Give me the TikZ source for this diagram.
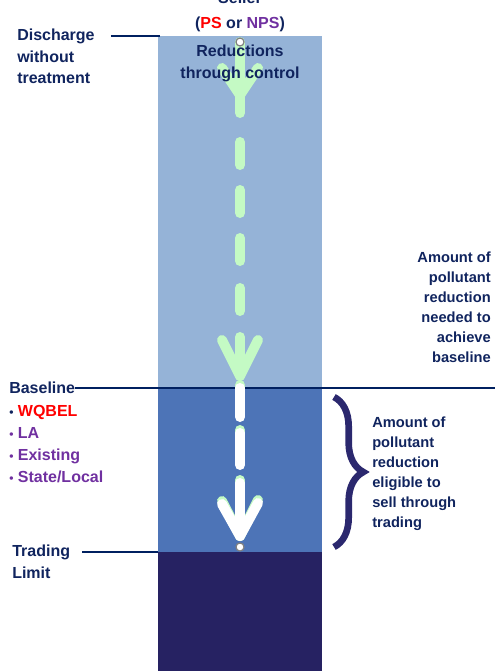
\documentclass[tikz,border=0pt]{standalone}
\usepackage{fontspec}
\setmainfont{Liberation Sans}
\usepackage{xcolor}
\usepackage{tikz}
\usetikzlibrary{positioning, calc, decorations.pathreplacing}
\definecolor{lightcol}{RGB}{149, 179, 215}
\definecolor{midcol}{RGB}{77, 116, 183}
\definecolor{darkcol}{RGB}{38, 34, 98}
\definecolor{navyline}{RGB}{0, 32, 96}
\definecolor{navytext}{RGB}{16, 36, 94}
\definecolor{npspurple}{RGB}{112, 48, 160}
\definecolor{flowgreen}{RGB}{196, 250, 196}
\definecolor{bracecol}{RGB}{43, 40, 110}

\tikzset{
    leader/.style={draw=navyline, line width=2pt},
    greenstroke/.style={draw=flowgreen, line width=7.5pt, line cap=round, line join=round},
    whitestroke/.style={draw=white, line width=7.5pt, line cap=round, line join=round},
    lbl/.style={text=navytext, inner sep=0pt, font=\bfseries\fontsize{12}{16}\selectfont},
    sidelbl/.style={text=navytext, inner sep=0pt, font=\bfseries\fontsize{11}{15}\selectfont},
    marker/.style={circle, draw=gray, fill=white, line width=0.9pt, minimum size=6pt, inner sep=0pt}
}

\begin{document}
\begin{tikzpicture}[x=0.75pt, y=-0.75pt]
    \useasboundingbox (0,0) rectangle (495,671);
    \clip (0,0) rectangle (495,671);

    % The column
    \fill[lightcol] (158,36) rectangle (322,389);
    \fill[midcol] (158,389) rectangle (322,552);
    \fill[darkcol] (158,552) rectangle (322,671);
    \coordinate (coltop) at (160,36);
    \coordinate (rightedge) at (495,389);
    \coordinate (collimit) at (158,552);

    % Labels on the left
    \node[lbl, anchor=north west, align=left] (discharge) at (17,29) {Discharge\\without\\treatment};
    \node[lbl, anchor=north west] (baseline) at (9,382) {Baseline};
    \node[lbl, anchor=north west, align=left, font=\bfseries\fontsize{12}{16.5}\selectfont] (bullets) at (9,405)
        {{\small\textbullet} \textcolor{red}{WQBEL}\\
         \textcolor{npspurple}{{\small\textbullet} LA}\\
         \textcolor{npspurple}{{\small\textbullet} Existing}\\
         \textcolor{npspurple}{{\small\textbullet} State/Local}};
    \node[lbl, anchor=north west, align=left] (trading) at (12,545) {Trading\\Limit};

    % Leader lines
    \draw[leader] ([xshift=12pt]discharge.north east |- coltop) -- (coltop);
    \draw[leader] (baseline.east) -- (baseline.east -| rightedge);
    \draw[leader] ([xshift=9pt]trading.north east |- collimit) -- (collimit);

    % Green arrow (down to baseline)
    \draw[greenstroke] (240,42) -- (240,113);
    \draw[greenstroke] (222,68) -- (240,95) -- (258,68);
    \foreach \y in {137, 185, 233, 283} {
        \draw[greenstroke] (240,\y+5) -- (240,\y+28);
    }
    \coordinate (gtip) at (240,376);
    \draw[greenstroke] (240,337) -- (gtip);
    \draw[greenstroke] (222,340) -- (gtip) -- (258,340);

    % White arrow (down to trading limit), green edge behind
    \coordinate (wtip) at (240,536);
    \begin{scope}[shift={(0,-3)}]
        \foreach \a/\b in {388/417, 433/465} {
            \draw[greenstroke] (240,\a) -- (240,\b);
        }
        \draw[greenstroke] (240,483) -- (wtip);
        \draw[greenstroke] (222,504) -- (wtip) -- (258,503);
    \end{scope}
    \foreach \a/\b in {388/417, 433/465} {
        \draw[whitestroke] (240,\a) -- (240,\b);
    }
    \draw[whitestroke] (240,483) -- (wtip);
    \draw[whitestroke] (222,504) -- (wtip) -- (258,503);

    % Texts in and above the column
    \node[lbl, anchor=north, align=center] (reductions) at (240,45) {Reductions\\through control};
    \node[lbl, anchor=south, align=center] (seller) at (240,32)
        {Seller\\[3pt](\textcolor{red}{PS} or \textcolor{npspurple}{NPS})};

    % Start and end markers
    \node[marker] (start) at (240,42) {};
    \node[marker] (stop) at (240,547) {};

    % Right side
    \node[sidelbl, anchor=north east, align=right] (needed) at (491,252)
        {Amount of\\pollutant\\reduction\\needed to\\achieve\\baseline};
    \draw[bracecol, line width=5pt, decorate, decoration={brace, amplitude=22pt}] (334,397) -- (334,547);
    \node[sidelbl, anchor=north west, align=left] (eligible) at (372,417)
        {Amount of\\pollutant\\reduction\\eligible to\\sell through\\trading};
\end{tikzpicture}
\end{document}
